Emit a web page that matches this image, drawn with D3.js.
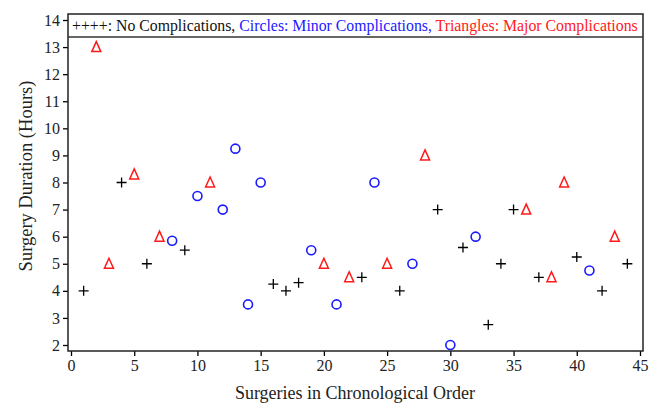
<!DOCTYPE html>
<html>
<head>
<meta charset="utf-8">
<script src="https://cdn.jsdelivr.net/npm/d3@7"></script>
<style>
  body { margin: 0; background: #fff; }
  svg text { font-family: "Liberation Serif", "Times New Roman", serif; }
</style>
</head>
<body>
<div id="chart"></div>
<script>
// surgery number, duration in hours, complication type
var surgery = [1,2,3,4,5,6,7,8,9,10,11,12,13,14,15,16,17,18,19,20,21,22,
               23,24,25,26,27,28,29,30,31,32,33,34,35,36,37,38,39,40,41,42,43,44];
var hours = [4,13,5,8,8.3,5,6,5.85,5.5,7.5,8,7,9.25,3.5,8,4.25,4,4.3,5.5,5,3.5,4.5,
             4.5,8,5,4,5,9,7,2,5.6,6,2.75,5,7,7,4.5,4.5,8,5.25,4.75,4,6,5];
// n = none, m = minor, M = major
var kind = ["n","M","M","n","M","n","M","m","n","m","M","m","m","m","m","n","n","n","m","M","m","M",
            "n","m","M","n","m","M","n","m","n","m","n","n","n","M","n","M","M","n","m","n","M","n"];
var xTicks = [0,5,10,15,20,25,30,35,40,45];
var yTicks = [2,3,4,5,6,7,8,9,10,11,12,13,14];

var width = 661, height = 404;
var serif = "'Liberation Serif', 'Times New Roman', serif";
var svg = d3.select("#chart").append("svg")
    .attr("width", width)
    .attr("height", height);

var x = d3.scaleLinear().domain([0, 45]).range([71, 640]);
var y = d3.scaleLinear().domain([2, 14]).range([345, 20]);

var frameL = 68, frameR = 643, frameT = 14, frameB = 351;

// x axis
var xAxis = svg.append("g")
    .attr("transform", "translate(0," + frameB + ")")
    .call(d3.axisBottom(x).tickValues(xTicks).tickSize(5).tickPadding(4));
xAxis.attr("font-family", serif);
xAxis.select(".domain").remove();
xAxis.selectAll("line").attr("stroke", "#000").attr("stroke-width", 1.3);
xAxis.selectAll("text").style("font-size", "16px").style("font-family", serif).attr("fill", "#222");

// y axis
var yAxis = svg.append("g")
    .attr("transform", "translate(" + frameL + ",0)")
    .call(d3.axisLeft(y).tickValues(yTicks).tickSize(5).tickPadding(3));
yAxis.attr("font-family", serif);
yAxis.select(".domain").remove();
yAxis.selectAll("line").attr("stroke", "#000").attr("stroke-width", 1.3);
yAxis.selectAll("text").style("font-size", "16px").style("font-family", serif).attr("fill", "#222");

// frame
svg.append("rect")
    .attr("x", frameL).attr("y", frameT)
    .attr("width", frameR - frameL).attr("height", frameB - frameT)
    .attr("fill", "none").attr("stroke", "#222").attr("stroke-width", 1.5);
svg.append("line")
    .attr("x1", frameL).attr("x2", frameR)
    .attr("y1", 37).attr("y2", 37)
    .attr("stroke", "#333").attr("stroke-width", 1.5);

// legend text
var leg = svg.append("text")
    .attr("x", 72).attr("y", 31)
    .style("font-size", "15.8px");
leg.append("tspan").attr("fill", "#111").text("++++: No Complications, ");
leg.append("tspan").attr("fill", "#1a1aff").text("Circles: Minor Complications, ");
leg.append("tspan").attr("fill", "#ff1a1a").text("Triangles: Major Complications");

// points
var pts = surgery.map(function(s, i) { return {s: s, h: hours[i], k: kind[i]}; });

svg.selectAll("path.none")
    .data(pts.filter(function(d) { return d.k == "n"; }))
  .enter().append("path")
    .attr("class", "none")
    .attr("d", "M-5,0H5M0,-5V5")
    .attr("transform", function(d) { return "translate(" + x(d.s) + "," + y(d.h) + ")"; })
    .attr("stroke", "#000").attr("stroke-width", 1.3).attr("fill", "none");

svg.selectAll("circle.minor")
    .data(pts.filter(function(d) { return d.k == "m"; }))
  .enter().append("circle")
    .attr("class", "minor")
    .attr("cx", function(d) { return x(d.s); })
    .attr("cy", function(d) { return y(d.h); })
    .attr("r", 4.5)
    .attr("stroke", "#1a1aff").attr("stroke-width", 1.6).attr("fill", "none");

svg.selectAll("path.major")
    .data(pts.filter(function(d) { return d.k == "M"; }))
  .enter().append("path")
    .attr("class", "major")
    .attr("d", "M0,-5.5L4.5,4.5H-4.5Z")
    .attr("transform", function(d) { return "translate(" + x(d.s) + "," + y(d.h) + ")"; })
    .attr("stroke", "#ff1a1a").attr("stroke-width", 1.5).attr("fill", "none");

// axis titles
svg.append("text")
    .attr("x", 355).attr("y", 399)
    .attr("text-anchor", "middle")
    .style("font-size", "18px").attr("fill", "#222")
    .text("Surgeries in Chronological Order");

svg.append("text")
    .attr("transform", "translate(32,176)rotate(-90)")
    .attr("text-anchor", "middle")
    .style("font-size", "18.5px").attr("fill", "#222")
    .text("Surgery Duration (Hours)");
</script>
</body>
</html>
